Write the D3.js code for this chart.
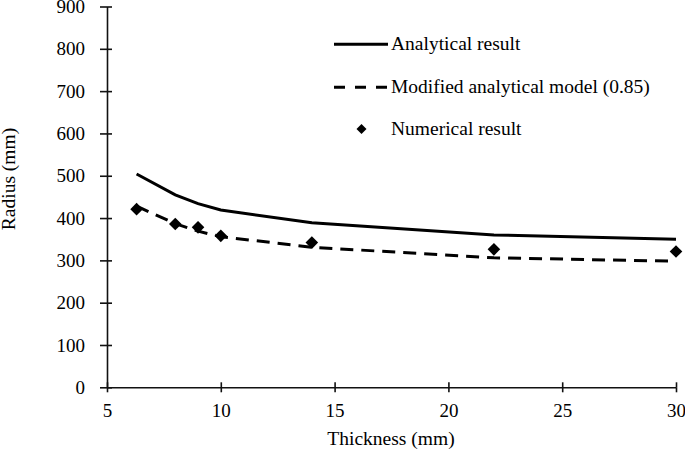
<!DOCTYPE html>
<html><head><meta charset="utf-8">
<script src="https://cdn.jsdelivr.net/npm/d3@7"></script>
<style>body{margin:0;background:#fff}svg text{font-family:"Liberation Serif","Times New Roman",serif;fill:#000}</style>
</head><body><svg id="c" width="685" height="450"></svg>
<script>
const thickness = [6.3, 8, 9, 10, 14, 22, 30];
const analytical = [504, 455, 434, 419, 389, 360, 350];
const modified = [428, 387, 369, 356, 331, 306, 298];
const numThickness = [6.3, 8, 9, 10, 14, 22, 30];
const numerical = [421, 386, 378, 358, 342, 326, 321];
const xTicks = [5, 10, 15, 20, 25, 30];
const yTicks = [0, 100, 200, 300, 400, 500, 600, 700, 800, 900];
const legendLabels = ["Analytical result", "Modified analytical model (0.85)", "Numerical result"];

const svg = d3.select("#c");
const x = d3.scaleLinear().domain([5, 30]).range([107, 676]);
const y = d3.scaleLinear().domain([0, 900]).range([387.3, 6.5]);
const fs = 19;
const ft = 19.5;

// axes
const xa = svg.append("g").attr("transform", "translate(0," + y(0) + ")")
  .call(d3.axisBottom(x).tickValues(xTicks).tickSizeInner(5).tickSizeOuter(0).tickPadding(11.5));
const ya = svg.append("g").attr("transform", "translate(" + x(5) + ",0)")
  .call(d3.axisLeft(y).tickValues(yTicks).tickSizeInner(7).tickSizeOuter(0).tickPadding(15));
[xa, ya].forEach(a => {
  a.select(".domain").attr("stroke", "#111").attr("stroke-width", 1.6);
  a.selectAll(".tick line").attr("stroke", "#111").attr("stroke-width", 1.6);
  a.selectAll("text").style("font-size", fs + "px").style("font-family", '"Liberation Serif",serif').attr("fill", "#000");
});
// crossing ticks
xa.selectAll(".tick").append("line").attr("y1", 0).attr("y2", -5).attr("stroke", "#111").attr("stroke-width", 1.6);
ya.selectAll(".tick").append("line").attr("x1", 0).attr("x2", 5).attr("stroke", "#111").attr("stroke-width", 1.6);

// axis titles
svg.append("text").attr("x", 391).attr("y", 445).attr("text-anchor", "middle").style("font-size", ft + "px").text("Thickness (mm)");
svg.append("text").attr("transform", "translate(15,179) rotate(-90)").attr("text-anchor", "middle").style("font-size", ft + "px").text("Radius (mm)");

const line = d3.line().x(d => x(d[0])).y(d => y(d[1]));
svg.append("path").datum(d3.zip(thickness, analytical)).attr("d", line)
  .attr("fill", "none").attr("stroke", "#000").attr("stroke-width", 3);
svg.append("path").datum(d3.zip(thickness, modified)).attr("d", line)
  .attr("fill", "none").attr("stroke", "#000").attr("stroke-width", 3).attr("stroke-dasharray", "13,8");

const diamond = r => `M0,${-r}L${r},0L0,${r}L${-r},0Z`;
svg.append("g").selectAll("path").data(d3.zip(numThickness, numerical)).join("path")
  .attr("transform", d => `translate(${x(d[0])},${y(d[1])})`).attr("d", diamond(6.3)).attr("fill", "#000");

// legend
const lg = svg.append("g");
const ly = [44.3, 87.3, 129];
lg.append("line").attr("x1", 334).attr("x2", 388).attr("y1", ly[0]).attr("y2", ly[0]).attr("stroke", "#000").attr("stroke-width", 3);
lg.append("line").attr("x1", 334).attr("x2", 388).attr("y1", ly[1]).attr("y2", ly[1]).attr("stroke", "#000").attr("stroke-width", 3).attr("stroke-dasharray", "11,10");
lg.append("path").attr("transform", `translate(361.5,${ly[2]})`).attr("d", diamond(5)).attr("fill", "#000");
legendLabels.forEach((t, i) => {
  lg.append("text").attr("x", 391).attr("y", ly[i] + 6).style("font-size", ft + "px").text(t);
});
</script></body></html>
